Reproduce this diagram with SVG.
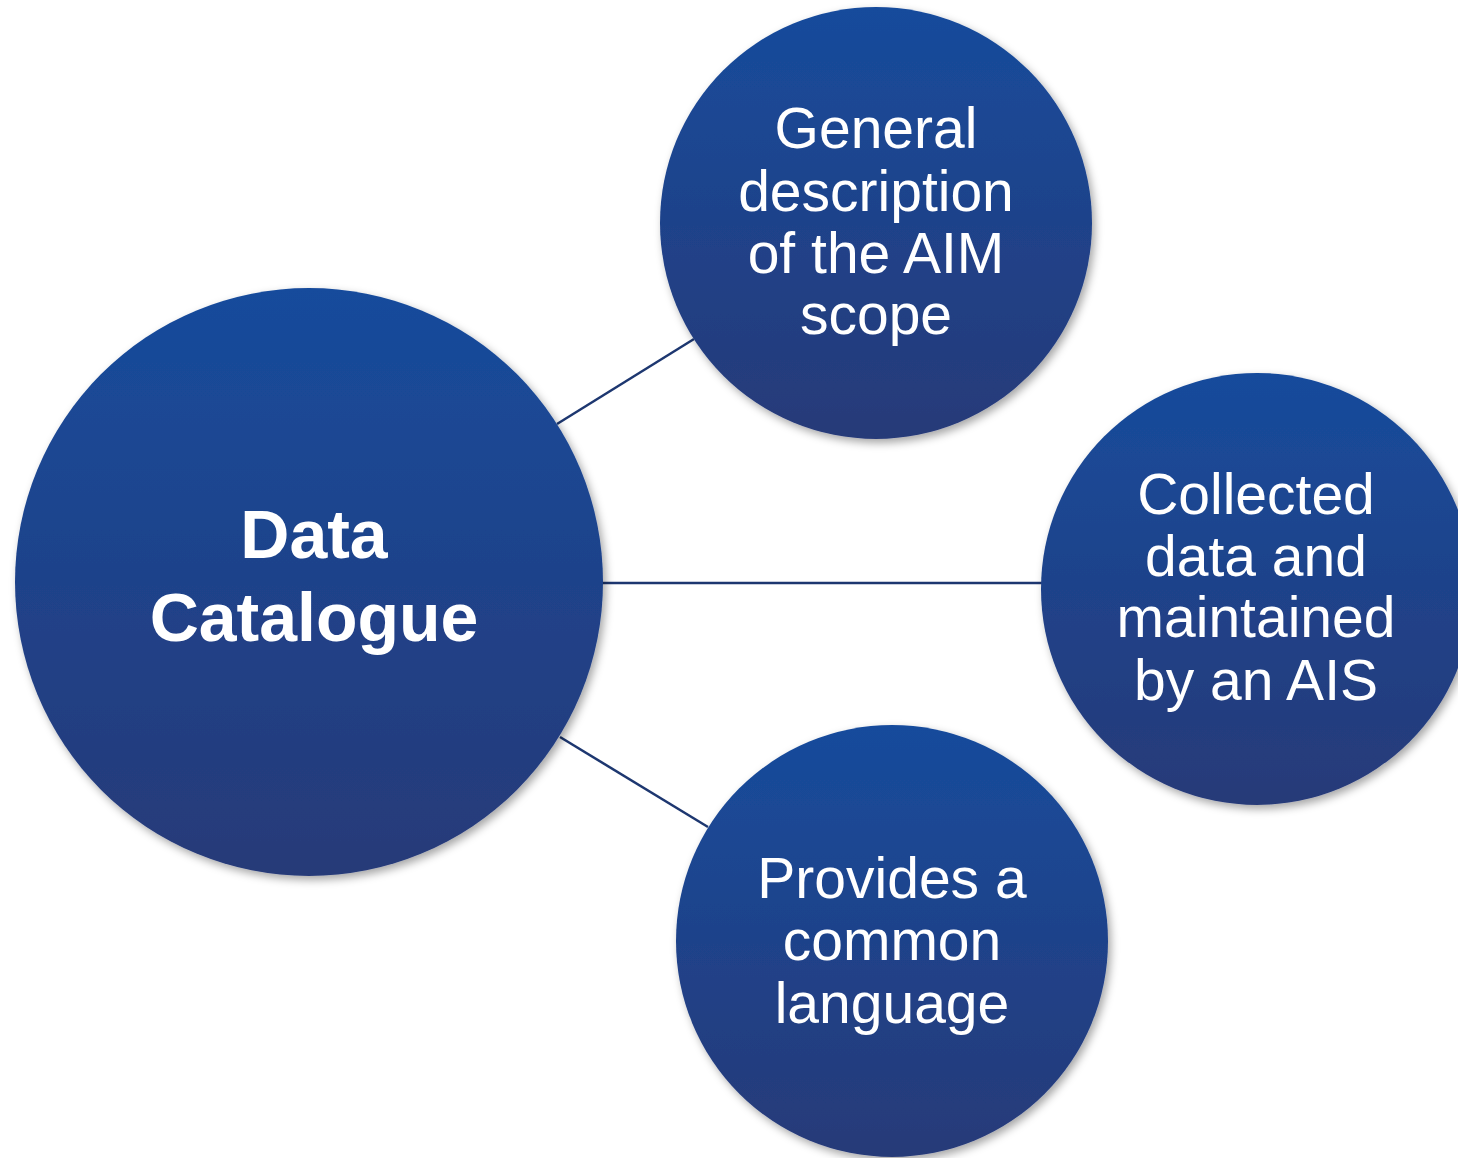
<svg xmlns="http://www.w3.org/2000/svg" width="1458" height="1158" viewBox="0 0 1458 1158">
<defs>
<linearGradient id="g" x1="0" y1="0" x2="0" y2="1">
<stop offset="0" stop-color="#174b9c"/>
<stop offset="1" stop-color="#273a78"/>
</linearGradient>
<filter id="sh" x="-10%" y="-10%" width="125%" height="125%">
<feDropShadow dx="3" dy="4" stdDeviation="4" flood-color="#000" flood-opacity="0.35"/>
</filter>
<style>
.c{fill:url(#g);filter:url(#sh)}
.t{font-family:"Liberation Sans",Arial,sans-serif;font-size:57px;fill:#fff;text-anchor:middle}
.b{font-family:"Liberation Sans",Arial,sans-serif;font-size:68px;font-weight:bold;fill:#fff;text-anchor:middle}
.ln{stroke:#1d3770;stroke-width:2.5;fill:none}
</style>
</defs>
<rect width="1458" height="1158" fill="#fff"/>
<g id="connectors">
<line class="ln" x1="557" y1="424" x2="694" y2="339"/>
<line class="ln" x1="600" y1="583" x2="1044" y2="583"/>
<line class="ln" x1="560" y1="737" x2="708" y2="827"/>
</g>
<g id="data-catalogue">
<circle class="c" cx="309" cy="582" r="294"/>
<text class="b" x="314" y="558">Data</text>
<text class="b" x="314" y="641">Catalogue</text>
</g>
<g id="general-description">
<circle class="c" cx="876" cy="223" r="216"/>
<text class="t" x="876" y="148">General</text>
<text class="t" x="876" y="211">description</text>
<text class="t" x="876" y="273">of the AIM</text>
<text class="t" x="876" y="334">scope</text>
</g>
<g id="collected-data">
<circle class="c" cx="1257" cy="589" r="216"/>
<text class="t" x="1256" y="514">Collected</text>
<text class="t" x="1256" y="576">data and</text>
<text class="t" x="1256" y="637">maintained</text>
<text class="t" x="1256" y="700">by an AIS</text>
</g>
<g id="common-language">
<circle class="c" cx="892" cy="941" r="216"/>
<text class="t" x="892" y="898">Provides a</text>
<text class="t" x="892" y="960">common</text>
<text class="t" x="892" y="1023">language</text>
</g>
</svg>
